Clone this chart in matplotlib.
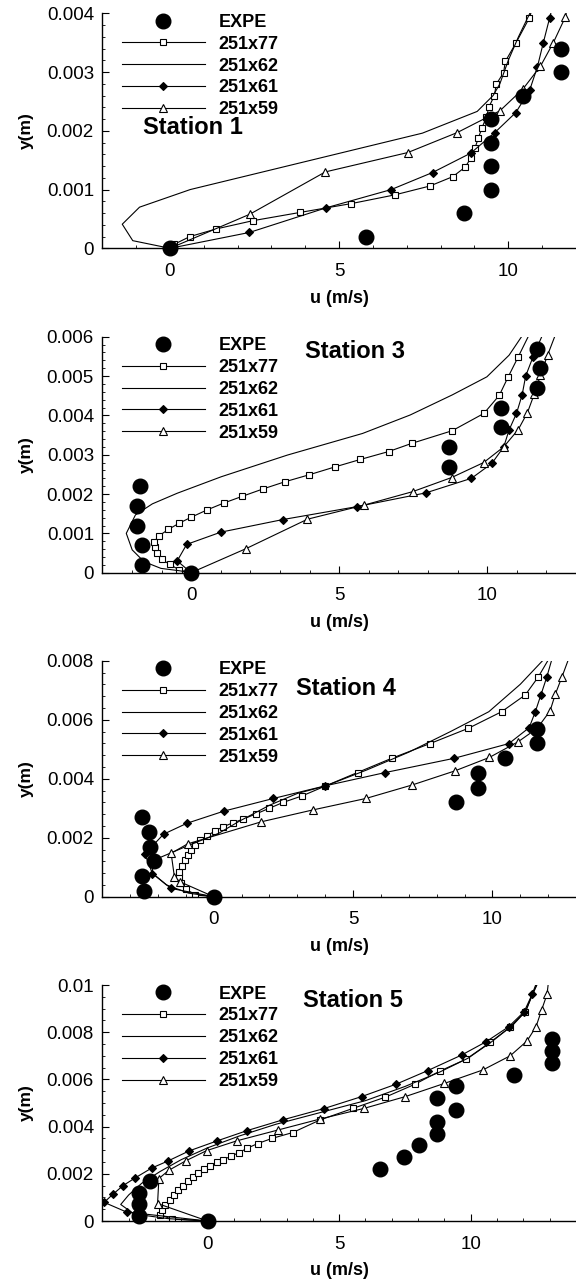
from matplotlib import pyplot as plt
from matplotlib.lines import Line2D
from matplotlib.ticker import MultipleLocator, FuncFormatter

import numpy as np

plt.rcParams['font.family'] = ['Liberation Sans', 'DejaVu Sans']

# ---------------- Station 1 ----------------
expe1_u = [0, 5.78, 8.70, 9.48, 9.48, 9.48, 9.48, 10.43, 11.57, 11.57]
expe1_y = [0, 0.0002, 0.0006, 0.001, 0.0014, 0.0018, 0.0022, 0.0026, 0.003, 0.0034]

s77_1_u = [0, 0.13, 0.59, 1.37, 2.45, 3.84, 5.35, 6.65, 7.68, 8.36, 8.72, 8.90, 9.01,
           9.11, 9.22, 9.35, 9.43, 9.59, 9.64, 9.86, 9.91, 10.22, 10.62, 10.72]
s77_1_y = [0, 0.00007, 0.0002, 0.00033, 0.00047, 0.00061, 0.00076, 0.00091, 0.00106,
           0.00122, 0.00138, 0.00154, 0.0017, 0.00187, 0.00205, 0.00223, 0.00241, 0.0026,
           0.00279, 0.00299, 0.00318, 0.00349, 0.00392, 0.0041]

s62_1_u = [0, -1.1, -1.41, -0.9, 0.6, 7.46, 9.08, 9.55, 9.75, 10.0, 10.3, 10.72]
s62_1_y = [0, 0.00013, 0.00041, 0.0007, 0.001, 0.00196, 0.00233, 0.0026, 0.0028,
           0.0032, 0.0036, 0.0041]

d61_1_u = [0, 2.35, 4.62, 6.54, 7.76, 8.89, 9.6, 10.22, 10.63, 10.86, 11.03, 11.22, 11.3]
d61_1_y = [0, 0.00027, 0.00069, 0.001, 0.00129, 0.00162, 0.00197, 0.00231, 0.00269,
           0.00309, 0.00349, 0.00392, 0.0041]

t59_1_u = [0, 2.36, 4.59, 7.03, 8.49, 9.75, 10.43, 10.95, 11.33, 11.68, 11.75]
t59_1_y = [0, 0.00058, 0.0013, 0.00163, 0.00197, 0.00234, 0.00271, 0.0031, 0.0035,
           0.00393, 0.0041]

# ---------------- Station 3 ----------------
expe3_u = [0, -1.65, -1.65, -1.83, -1.83, -1.73, 8.72, 8.72, 10.46, 10.46, 11.67, 11.77, 11.67]
expe3_y = [0, 0.0002, 0.0007, 0.0012, 0.0017, 0.0022, 0.0027, 0.0032, 0.0037, 0.0042,
           0.0047, 0.0052, 0.0057]

s77_3_u = [0, -0.40, -0.72, -0.99, -1.14, -1.23, -1.25, -1.08, -0.77, -0.40, 0.0, 0.55,
           1.1, 1.72, 2.43, 3.16, 3.99, 4.86, 5.72, 6.67, 7.46, 8.82, 9.89, 10.41, 10.71,
           11.05, 11.45]
s77_3_y = [0, 0.00007, 0.00021, 0.00034, 0.00049, 0.00066, 0.00079, 0.00094, 0.0011,
           0.00126, 0.00141, 0.0016, 0.00177, 0.00194, 0.00213, 0.00231, 0.00249, 0.00269,
           0.00288, 0.00308, 0.00329, 0.00361, 0.00405, 0.00451, 0.00498, 0.00549, 0.0061]

s62_3_u = [0, -0.4, -1.02, -1.59, -1.99, -2.19, -1.88, -1.31, -0.47, 1.02, 3.25, 5.79,
           7.4, 8.82, 9.99, 10.74, 11.25]
s62_3_y = [0, 0.00005, 0.00011, 0.00028, 0.00058, 0.001, 0.00147, 0.00175, 0.00202,
           0.00244, 0.00299, 0.00354, 0.00401, 0.00452, 0.00498, 0.00553, 0.0061]

d61_3_u = [0, -0.47, -0.15, 1.0, 3.09, 5.6, 7.93, 9.47, 10.16, 10.56, 10.74, 10.99,
           11.18, 11.3, 11.55, 11.9]
d61_3_y = [0, 0.0003, 0.00072, 0.00103, 0.00135, 0.00168, 0.00203, 0.0024, 0.00278,
           0.0032, 0.00363, 0.00405, 0.00452, 0.005, 0.00549, 0.0061]

t59_3_u = [0, 1.85, 3.93, 5.85, 7.48, 8.8, 9.88, 10.56, 11.05, 11.36, 11.59, 11.8, 12.04, 12.33]
t59_3_y = [0, 0.00061, 0.00136, 0.00172, 0.00206, 0.00242, 0.0028, 0.0032, 0.00364,
           0.00407, 0.00454, 0.00502, 0.00553, 0.0061]

# ---------------- Station 4 ----------------
expe4_u = [0, -2.5, -2.56, -2.14, -2.29, -2.31, -2.56, 8.68, 9.47, 9.47, 10.46, 11.61, 11.61]
expe4_y = [0, 0.0002, 0.0007, 0.0012, 0.0017, 0.0022, 0.0027, 0.0032, 0.0037, 0.0042,
           0.0047, 0.0052, 0.0057]

s77_4_u = [0, -0.66, -1.0, -1.18, -1.26, -1.23, -1.14, -1.05, -0.94, -0.82, -0.66, -0.48,
           -0.25, 0.03, 0.33, 0.68, 1.05, 1.5, 2.0, 2.5, 3.18, 4.0, 5.16, 6.38, 7.76, 9.14,
           10.33, 11.18, 11.64, 12.05]
s77_4_y = [0, 0.00006, 0.00025, 0.00045, 0.00066, 0.00085, 0.00104, 0.00123, 0.00141,
           0.00158, 0.00175, 0.00191, 0.00206, 0.00222, 0.00237, 0.0025, 0.00263, 0.0028,
           0.003, 0.0032, 0.00342, 0.00375, 0.00421, 0.00469, 0.00519, 0.00571, 0.00627,
           0.00684, 0.00744, 0.0081]

s62_4_u = [0, -0.9, -1.7, -2.2, -2.2, -2.0, -1.0, 0.18, 0.9, 2.0, 3.0, 4.0, 5.5, 7.0,
           8.5, 9.87, 11.0, 11.9]
s62_4_y = [0, 0.00012, 0.0004, 0.0008, 0.0011, 0.0013, 0.0017, 0.00215, 0.00255, 0.0031,
           0.0035, 0.00375, 0.0043, 0.0049, 0.0056, 0.00627, 0.0072, 0.0081]

d61_4_u = [0, -1.53, -2.2, -2.47, -1.8, -0.96, 0.36, 2.14, 4.01, 6.16, 8.62, 10.59,
           11.32, 11.54, 11.74, 11.95, 12.15]
d61_4_y = [0, 0.00028, 0.00078, 0.00145, 0.00212, 0.00249, 0.0029, 0.00333, 0.00376,
           0.00421, 0.00469, 0.00519, 0.00573, 0.00627, 0.00684, 0.00744, 0.0081]

t59_4_u = [0, -1.2, -1.41, -1.53, -0.94, 1.71, 3.55, 5.46, 7.13, 8.64, 9.89, 10.92,
           11.61, 12.07, 12.26, 12.5, 12.75]
t59_4_y = [0, 0.0005, 0.00066, 0.00147, 0.00179, 0.00254, 0.00294, 0.00333, 0.00379,
           0.00426, 0.00472, 0.00525, 0.00571, 0.0063, 0.00687, 0.00746, 0.0081]

# ---------------- Station 5 ----------------
expe5_u = [0, -2.59, -2.59, -2.59, -2.2, 6.55, 7.45, 8.04, 8.71, 8.71, 9.44, 8.71, 9.44,
           11.65, 13.08, 13.08, 13.08]
expe5_y = [0, 0.0002, 0.0007, 0.0012, 0.0017, 0.0022, 0.0027, 0.0032, 0.0037, 0.0042,
           0.0047, 0.0052, 0.0057, 0.0062, 0.0067, 0.0072, 0.0077]

s77_5_u = [0, -1.37, -1.81, -1.75, -1.6, -1.43, -1.28, -1.11, -0.92, -0.73, -0.54, -0.35,
           -0.13, 0.09, 0.34, 0.6, 0.9, 1.2, 1.5, 1.9, 2.45, 3.24, 4.27, 5.52, 6.76, 7.87,
           8.84, 9.83, 10.74, 11.5, 12.07, 12.55]
s77_5_y = [0, 0.00008, 0.00027, 0.00048, 0.00069, 0.0009, 0.00111, 0.0013, 0.0015,
           0.00168, 0.00186, 0.00203, 0.0022, 0.00234, 0.00248, 0.0026, 0.00275, 0.0029,
           0.00308, 0.00328, 0.0035, 0.00375, 0.00428, 0.00477, 0.00525, 0.00579, 0.00636,
           0.00686, 0.00757, 0.00822, 0.00887, 0.0101]

s62_5_u = [0, -1.5, -2.8, -3.3, -3.0, -2.5, -1.8, -1.0, 0.0, 1.2, 2.6, 4.3, 6.0, 7.5,
           8.8, 9.9, 10.8, 11.6, 12.1, 12.5]
s62_5_y = [0, 0.0001, 0.0003, 0.0007, 0.0011, 0.0016, 0.0021, 0.0026, 0.0031, 0.0036,
           0.0041, 0.0046, 0.0051, 0.0057, 0.0063, 0.0069, 0.0076, 0.0083, 0.0089, 0.0101]

d61_5_u = [0, -3.08, -3.93, -3.59, -3.21, -2.76, -2.13, -1.49, -0.7, 0.35, 1.5, 2.87,
           4.41, 5.85, 7.17, 8.36, 9.65, 10.59, 11.44, 12.03, 12.34, 12.55]
d61_5_y = [0, 0.00038, 0.00079, 0.00114, 0.0015, 0.00182, 0.00224, 0.00255, 0.00297,
           0.00339, 0.00383, 0.00429, 0.00476, 0.00527, 0.0058, 0.00637, 0.00703, 0.0076,
           0.00823, 0.00887, 0.00962, 0.0101]

t59_5_u = [0, -1.9, -1.85, -1.47, -0.81, -0.04, 1.12, 2.69, 4.27, 5.94, 7.51, 9.0,
           10.46, 11.5, 12.14, 12.48, 12.69, 12.9, 12.95]
t59_5_y = [0, 0.00074, 0.0018, 0.00215, 0.00256, 0.00298, 0.0034, 0.00386, 0.00432,
           0.00477, 0.00527, 0.00583, 0.0064, 0.007, 0.00763, 0.00823, 0.00893, 0.00961, 0.0101]

station_names = ["Station 1", "Station 3", "Station 4", "Station 5"]
series_labels = ["EXPE", "251x77", "251x62", "251x61", "251x59"]

panels = [
    dict(expe=(expe1_u, expe1_y), s77=(s77_1_u, s77_1_y), s62=(s62_1_u, s62_1_y),
         d61=(d61_1_u, d61_1_y), t59=(t59_1_u, t59_1_y),
         xlim=(-2, 12), ylim=(0, 0.004), ymaj=0.001, ymin=0.0002, txt=(0.086, 0.516)),
    dict(expe=(expe3_u, expe3_y), s77=(s77_3_u, s77_3_y), s62=(s62_3_u, s62_3_y),
         d61=(d61_3_u, d61_3_y), t59=(t59_3_u, t59_3_y),
         xlim=(-3, 13), ylim=(0, 0.006), ymaj=0.001, ymin=0.0002, txt=(0.427, 0.936)),
    dict(expe=(expe4_u, expe4_y), s77=(s77_4_u, s77_4_y), s62=(s62_4_u, s62_4_y),
         d61=(d61_4_u, d61_4_y), t59=(t59_4_u, t59_4_y),
         xlim=(-4, 13), ylim=(0, 0.008), ymaj=0.002, ymin=0.0004, txt=(0.408, 0.884)),
    dict(expe=(expe5_u, expe5_y), s77=(s77_5_u, s77_5_y), s62=(s62_5_u, s62_5_y),
         d61=(d61_5_u, d61_5_y), t59=(t59_5_u, t59_5_y),
         xlim=(-4, 14), ylim=(0, 0.01), ymaj=0.002, ymin=0.0005, txt=(0.424, 0.936)),
]

# axes boxes in figure pixels (top, bottom), figure is 576 x 1282
boxes = [(13.3, 248.3), (336.7, 572.7), (660.7, 896.7), (985, 1221)]

styles = {
    "s77": dict(marker="s", markersize=4.5, markerfacecolor="white"),
    "s62": dict(marker="None"),
    "d61": dict(marker="D", markersize=4, markerfacecolor="black"),
    "t59": dict(marker="^", markersize=5.5, markerfacecolor="white"),
}

fmt = FuncFormatter(lambda v, p: "0" if abs(v) < 1e-12 else "%g" % round(v, 6))

fig = plt.figure(figsize=(5.76, 12.82), dpi=100)
W, H = 576.0, 1282.0
left = 102.3 / W

for i, (p, (top, bot)) in enumerate(zip(panels, boxes)):
    ax = fig.add_axes([left, 1 - bot / H, 1 - left, (bot - top) / H])

    ax.plot(*p["expe"], "o", color="black", markersize=10.5, zorder=5, clip_on=False)
    for key in ["s77", "s62", "d61", "t59"]:
        u, y = p[key]
        # last point lies just above the axes: line only, no marker
        ax.plot(u, y, color="black", lw=0.8, markeredgecolor="black",
                markeredgewidth=0.8, markevery=list(range(len(u) - 1)),
                **styles[key])

    ax.set_xlim(*p["xlim"])
    ax.set_ylim(*p["ylim"])

    for s in ["top", "right"]:
        ax.spines[s].set_visible(False)
    ax.spines["left"].set_linewidth(1.0)
    ax.spines["bottom"].set_linewidth(1.0)

    ax.xaxis.set_major_locator(MultipleLocator(5))
    ax.xaxis.set_minor_locator(MultipleLocator(1))
    ax.yaxis.set_major_locator(MultipleLocator(p["ymaj"]))
    ax.yaxis.set_minor_locator(MultipleLocator(p["ymin"]))
    ax.xaxis.set_major_formatter(fmt)
    ax.yaxis.set_major_formatter(fmt)
    ax.tick_params(which="both", direction="in", labelsize=13.5)
    ax.tick_params(axis="x", which="both", pad=10.5)
    ax.tick_params(axis="y", which="both", pad=6)
    ax.tick_params(which="major", length=5)
    ax.tick_params(which="minor", length=2.5)

    ax.set_xlabel("u (m/s)", fontsize=13, fontweight="bold", labelpad=7)
    ax.set_ylabel("y(m)", fontsize=12.5, fontweight="bold", labelpad=9)

    legend_handles = [
        Line2D([], [], ls="None", marker="o", color="black", markersize=10.5),
    ] + [
        Line2D([], [], color="black", lw=0.8, markeredgecolor="black",
               markeredgewidth=0.8, **styles[k]) for k in ["s77", "s62", "d61", "t59"]
    ]
    ax.legend(legend_handles, series_labels, loc="upper left",
              bbox_to_anchor=(0.041, 0.997), frameon=False, borderpad=0,
              borderaxespad=0, handlelength=4.6, handletextpad=0.78,
              labelspacing=0.265, prop=dict(weight="bold", size=13))

    ax.text(p["txt"][0], p["txt"][1], station_names[i], transform=ax.transAxes,
            fontsize=17, fontweight="bold", ha="left", va="center")

plt.savefig("out.png", dpi=100)
plt.close()
